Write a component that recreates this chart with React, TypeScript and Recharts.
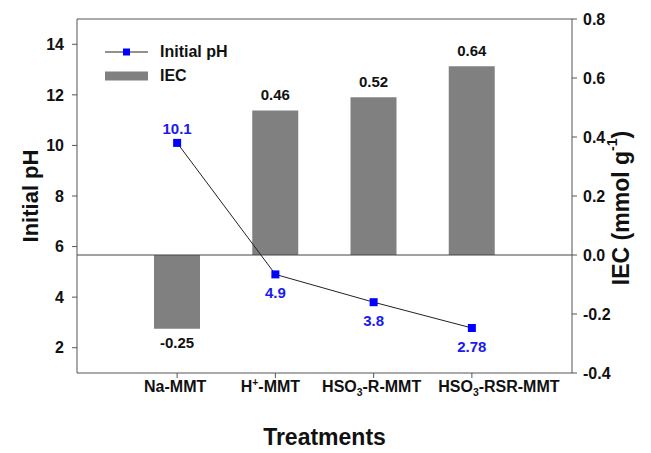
import React from "react";
import {
  ComposedChart,
  Bar,
  Line,
  XAxis,
  YAxis,
  Legend,
  LabelList,
  ReferenceLine,
} from "recharts";

// treatments; "^" = superscript next char, "_" = subscript next char
const treatments = ["Na-MMT", "H^+-MMT", "HSO_3-R-MMT", "HSO_3-RSR-MMT"];
const initialPH = [10.1, 4.9, 3.8, 2.78];
// bar heights as drawn in the figure, and the values printed over them
const iecBars = [-0.25, 0.49, 0.535, 0.64];
const iecLabels = ["-0.25", "0.46", "0.52", "0.64"];

const phTicks = [2, 4, 6, 8, 10, 12, 14];
const iecTicks = [-0.4, -0.2, 0, 0.2, 0.4, 0.6, 0.8];

const data = treatments.map((name, i) => ({
  name,
  ph: initialPH[i],
  iec: iecBars[i],
  iecText: iecLabels[i],
}));

const FONT = "'Liberation Sans', Arial, sans-serif";
const AXIS = "#555";
const BLUE = "#0000ff";
const GREY = "#808080";

// small horizontal nudges so the long labels don't collide (as in the original)
const tickNudge = [-2, -5, -2, 27];

function richParts(label: string) {
  const parts: { t: string; kind: "n" | "sup" | "sub" }[] = [];
  let i = 0;
  while (i < label.length) {
    const c = label[i];
    if (c === "^" || c === "_") {
      parts.push({ t: label[i + 1], kind: c === "^" ? "sup" : "sub" });
      i += 2;
    } else {
      const last = parts[parts.length - 1];
      if (last && last.kind === "n") last.t += c;
      else parts.push({ t: c, kind: "n" });
      i += 1;
    }
  }
  return parts;
}

function RichText({ parts, size }: { parts: ReturnType<typeof richParts>; size: number }) {
  let shift = 0;
  return (
    <>
      {parts.map((p, k) => {
        const want = p.kind === "sup" ? -size * 0.4 : p.kind === "sub" ? size * 0.25 : 0;
        const dy = want - shift;
        shift = want;
        return (
          <tspan key={k} dy={dy} fontSize={p.kind === "n" ? size : size * 0.65}>
            {p.t}
          </tspan>
        );
      })}
    </>
  );
}

const TreatmentTick = (props: any) => {
  const { x, y, payload, index } = props;
  const parts = richParts(String(payload.value));
  return (
    <text
      x={x + (tickNudge[index] || 0)}
      y={y + 12}
      textAnchor="middle"
      fontFamily={FONT}
      fontWeight="bold"
      fontSize={16}
      fill="#111"
    >
      <RichText parts={parts} size={16} />
    </text>
  );
};

const BarValueLabel = (props: any) => {
  const { x, y, width, height, value } = props;
  const top = Math.min(y, y + height);
  const bottom = Math.max(y, y + height);
  const cx = x + width / 2;
  const negative = String(value).startsWith("-");
  return (
    <text
      x={cx}
      y={negative ? bottom + 19 : top - 10}
      textAnchor="middle"
      fontFamily={FONT}
      fontWeight="bold"
      fontSize={15}
      fill="#111"
    >
      {value}
    </text>
  );
};

const PhLabel = (props: any) => {
  const { x, y, value, index } = props;
  const above = index === 0;
  return (
    <text
      x={x}
      y={above ? y - 9 : y + 24}
      textAnchor="middle"
      fontFamily={FONT}
      fontWeight="bold"
      fontSize={15}
      fill="#1a1aee"
    >
      {value}
    </text>
  );
};

const SquareDot = (props: any) => {
  const { cx, cy, index } = props;
  return <rect key={index} x={cx - 4} y={cy - 4} width={8} height={8} fill={BLUE} />;
};

const LegendBox = () => (
  <div style={{ fontFamily: FONT, fontWeight: "bold", fontSize: 16, color: "#111" }}>
    <div style={{ display: "flex", alignItems: "center", height: 24 }}>
      <svg width={55} height={12}>
        <line x1={0} y1={6} x2={43} y2={6} stroke="#222" strokeWidth={1} />
        <rect x={18} y={2.5} width={7} height={7} fill={BLUE} />
      </svg>
      <span>Initial pH</span>
    </div>
    <div style={{ display: "flex", alignItems: "center", height: 24 }}>
      <svg width={55} height={12}>
        <rect x={0} y={1.5} width={43} height={9} fill={GREY} />
      </svg>
      <span>IEC</span>
    </div>
  </div>
);

const LeftTitle = (props: any) => {
  const { viewBox } = props;
  const cy = viewBox.y + viewBox.height / 2;
  const cx = 30;
  return (
    <text
      x={cx}
      y={cy}
      transform={`rotate(-90, ${cx}, ${cy})`}
      textAnchor="middle"
      dominantBaseline="central"
      fontFamily={FONT}
      fontWeight="bold"
      fontSize={22}
      fill="#111"
    >
      Initial pH
    </text>
  );
};

const RightTitle = (props: any) => {
  const { viewBox } = props;
  const cy = viewBox.y + viewBox.height / 2 + 12;
  const cx = 621;
  return (
    <text
      x={cx}
      y={cy}
      transform={`rotate(-90, ${cx}, ${cy})`}
      textAnchor="middle"
      dominantBaseline="central"
      fontFamily={FONT}
      fontWeight="bold"
      fontSize={23}
      fill="#111"
    >
      <tspan>IEC (mmol g</tspan>
      <tspan fontSize={14} dy={-9}>
        -1
      </tspan>
      <tspan dy={9}>)</tspan>
    </text>
  );
};

const BottomTitle = (props: any) => {
  const { viewBox } = props;
  const cx = viewBox.x + viewBox.width / 2;
  return (
    <text
      x={cx}
      y={445}
      textAnchor="middle"
      fontFamily={FONT}
      fontWeight="bold"
      fontSize={23}
      fill="#111"
    >
      Treatments
    </text>
  );
};

export default function App() {
  return (
    <div style={{ position: "absolute", left: 0, top: 0, background: "#fff" }}>
      <ComposedChart
        width={651}
        height={453}
        data={data}
        margin={{ top: 19, right: 0, bottom: 0, left: 0 }}
      >
        <XAxis
          dataKey="name"
          type="category"
          height={80}
          padding={{ left: 51, right: 51 }}
          tickSize={5}
          tickMargin={2}
          stroke={AXIS}
          tick={<TreatmentTick />}
          interval={0}
          label={<BottomTitle />}
        />
        <YAxis
          yAxisId="left"
          orientation="left"
          width={77}
          domain={[1, 15]}
          ticks={phTicks}
          allowDataOverflow
          tickSize={5}
          tickMargin={8}
          stroke={AXIS}
          tick={{ fill: "#111", fontFamily: FONT, fontWeight: "bold", fontSize: 16 }}
          label={<LeftTitle />}
        />
        <YAxis
          yAxisId="right"
          orientation="right"
          width={79}
          domain={[-0.4, 0.8]}
          ticks={iecTicks}
          allowDataOverflow
          tickSize={5}
          tickMargin={6}
          stroke={AXIS}
          tickFormatter={(v: number) => v.toFixed(1)}
          tick={{ fill: "#111", fontFamily: FONT, fontWeight: "bold", fontSize: 16 }}
          label={<RightTitle />}
        />
        <ReferenceLine yAxisId="right" y={0.8} stroke={AXIS} />
        <ReferenceLine yAxisId="right" y={0} stroke="#444" />
        <Bar
          yAxisId="right"
          dataKey="iec"
          fill={GREY}
          barSize={46}
          isAnimationActive={false}
        >
          <LabelList dataKey="iecText" content={<BarValueLabel />} />
        </Bar>
        <Line
          yAxisId="left"
          dataKey="ph"
          stroke="#222"
          strokeWidth={1}
          dot={<SquareDot />}
          activeDot={false}
          isAnimationActive={false}
        >
          <LabelList dataKey="ph" content={<PhLabel />} />
        </Line>
        <Legend
          layout="vertical"
          verticalAlign="middle"
          align="center"
          content={<LegendBox />}
          wrapperStyle={{ left: 105, top: 40, width: "auto" }}
        />
      </ComposedChart>
    </div>
  );
}
